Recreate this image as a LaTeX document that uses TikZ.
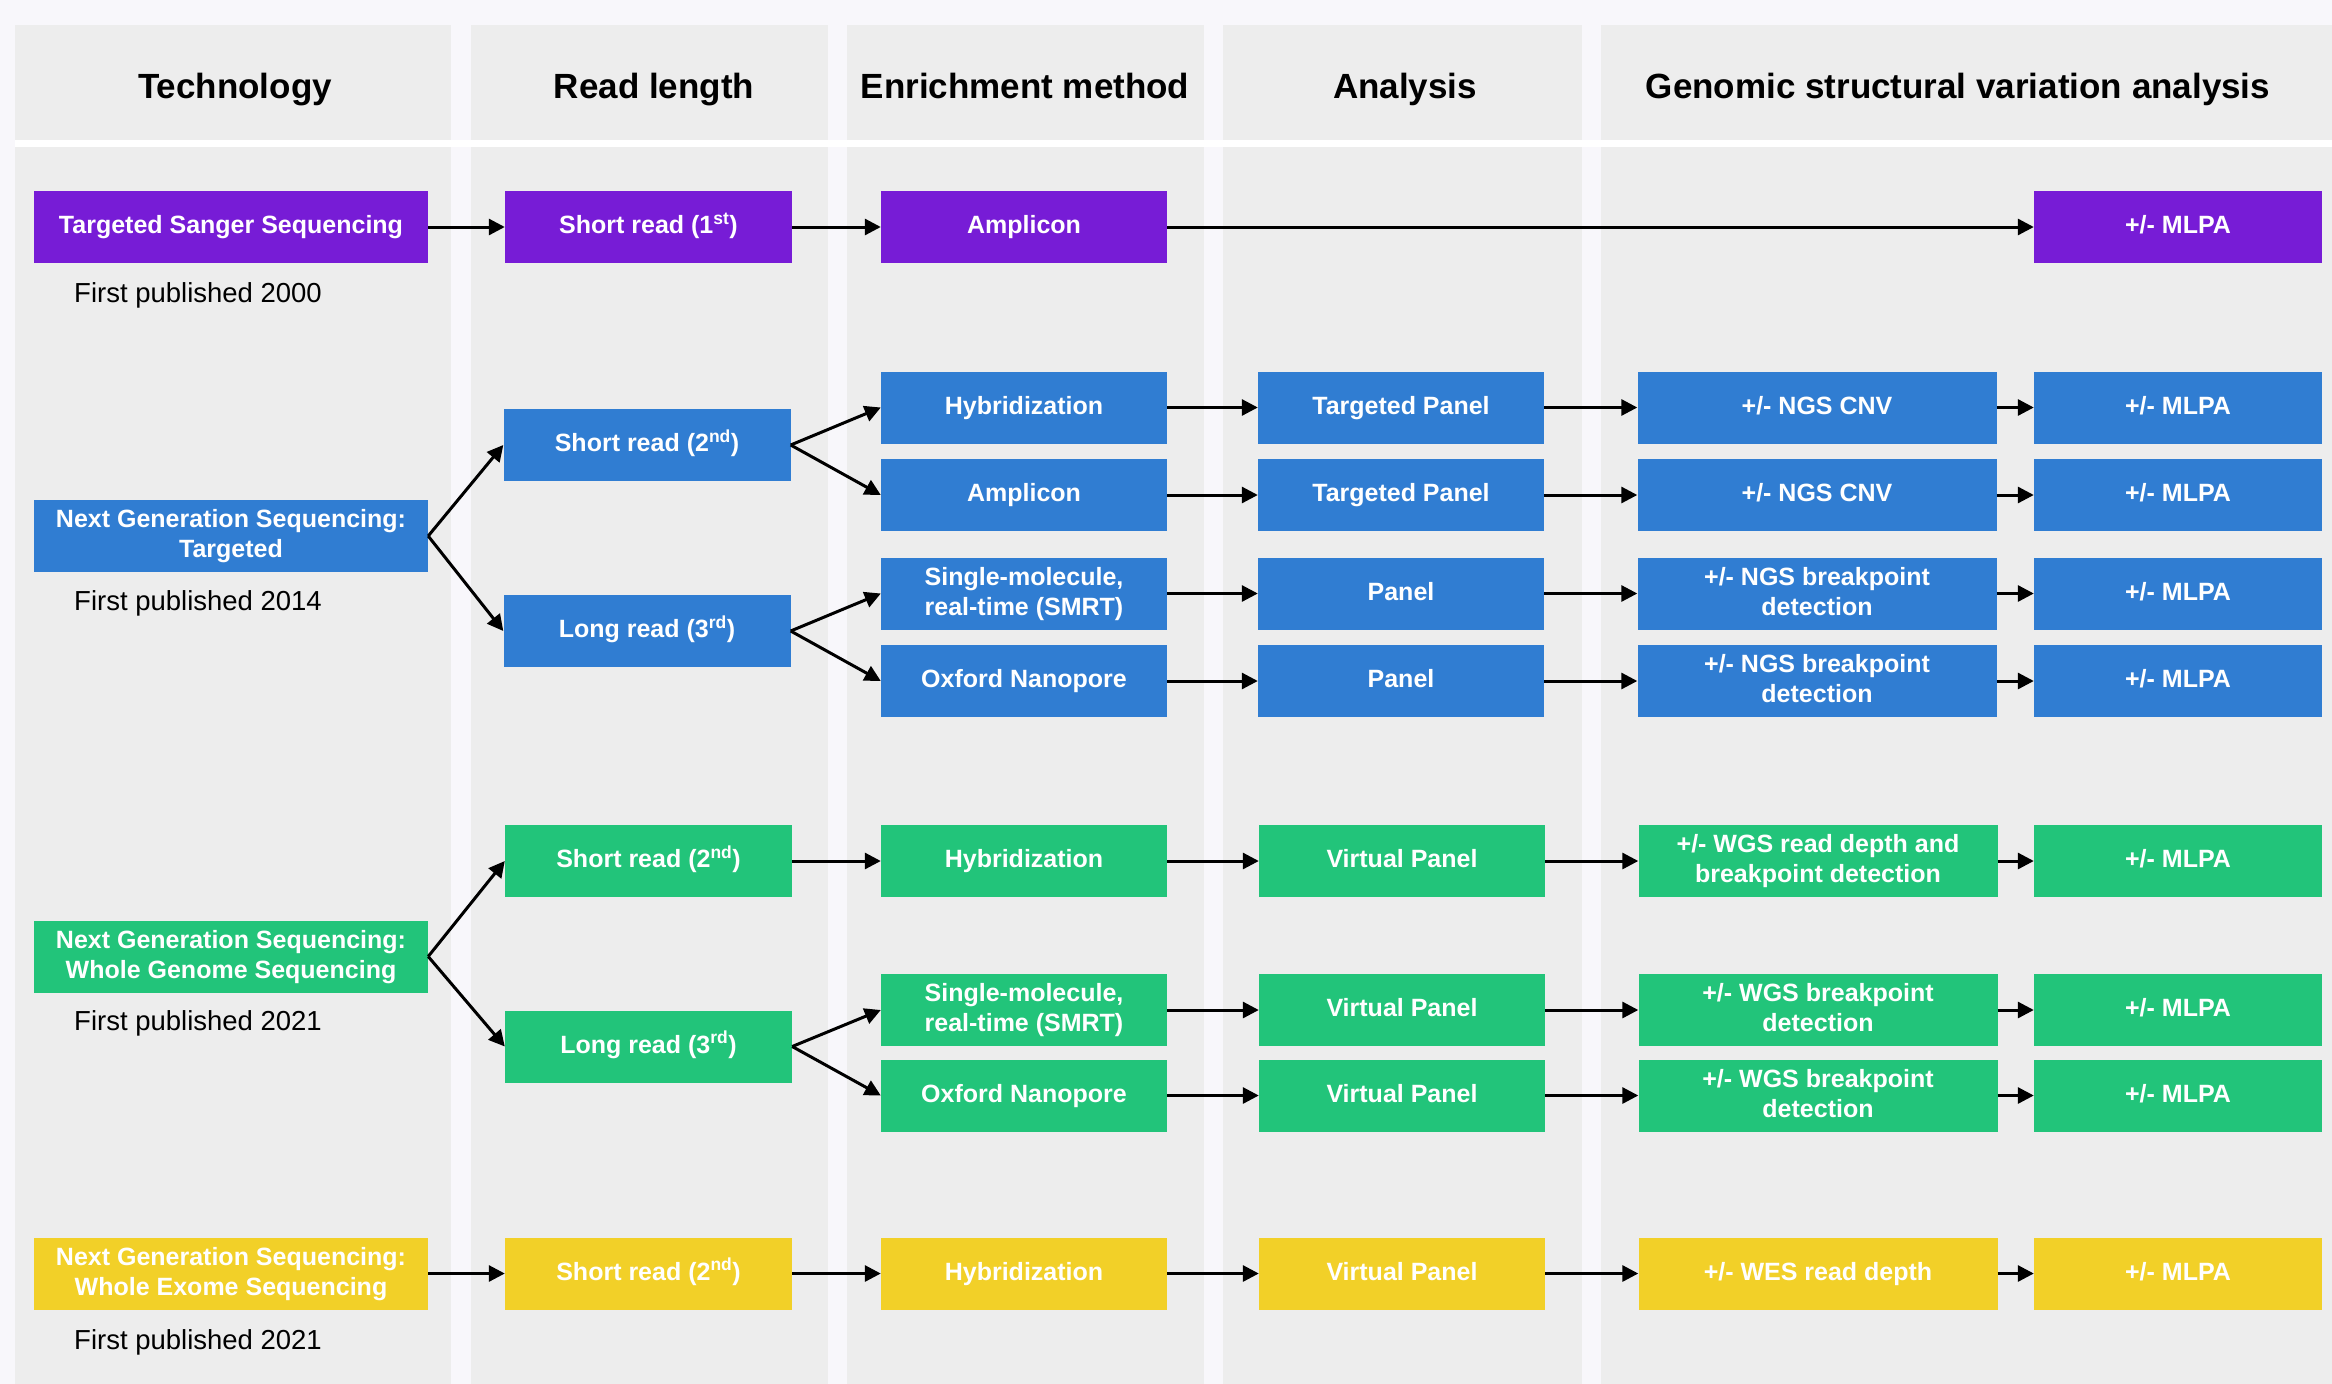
\documentclass[tikz,border=0pt]{standalone}
\usepackage{fontspec}
\setmainfont{Liberation Sans}
\usetikzlibrary{arrows.meta}
\definecolor{cpur}{RGB}{119,28,214}
\definecolor{cblu}{RGB}{48,125,210}
\definecolor{cgrn}{RGB}{34,196,122}
\definecolor{cyel}{RGB}{242,208,40}
\definecolor{cpanel}{RGB}{237,237,237}
\definecolor{cbg}{RGB}{248,247,251}
\tikzset{
  box/.style={rectangle, minimum height=72pt, inner sep=0pt, align=center, text=white,
    font=\bfseries\fontsize{25}{30}\selectfont},
  one/.style={text height=18pt, text depth=5pt},
  two/.style={text depth=5pt},
  pur/.style={box, fill=cpur},
  blu/.style={box, fill=cblu},
  grn/.style={box, fill=cgrn},
  yel/.style={box, fill=cyel},
  wa/.style={minimum width=394pt},
  wb/.style={minimum width=287pt},
  wc/.style={minimum width=286pt},
  wd/.style={minimum width=286pt},
  we/.style={minimum width=359pt},
  wf/.style={minimum width=288pt},
  arr/.style={-{Triangle[length=16pt,width=16pt]}, line width=3pt, black},
  hdr/.style={font=\bfseries\fontsize{35}{40}\selectfont, anchor=base, inner sep=0pt},
  pub/.style={font=\fontsize{27.5}{30}\selectfont, anchor=west, inner sep=0pt}
}
\begin{document}
\begin{tikzpicture}[x=1pt,y=-1pt]
\useasboundingbox (0,0) rectangle (2332,1384);
\fill[cbg] (0,0) rectangle (2332,1384);
% panels
\foreach \xa/\xb in {15/451, 471/828, 847/1204, 1223/1582, 1601/2332}{
  \fill[cpanel] (\xa,25) rectangle (\xb,140);
  \fill[cpanel] (\xa,147) rectangle (\xb,1384);
}
\fill[white] (15,140) rectangle (2332,147);
% headers
\node[hdr] (h1) at (235,98) {Technology};
\node[hdr] (h2) at (654,98) {Read length};
\node[hdr] (h3) at (1025,98) {Enrichment method};
\node[hdr] (h4) at (1405,98) {Analysis};
\node[hdr] (h5) at (1958,98) {Genomic structural variation analysis};

% purple row
\node[pur,one,wa] (tsg) at (231,227) {Targeted Sanger Sequencing};
\node[pur,one,wb] (sr1) at (648.5,227) {Short read (1\textsuperscript{st})};
\node[pur,one,wc] (amp1) at (1024,227) {Amplicon};
\node[pur,one,wf] (ml1) at (2178,227) {+/- MLPA};
\node[pub] (p1) at (74,295) {First published 2000};
\draw[arr] (tsg.east) -- (sr1.west);
\draw[arr] (sr1.east) -- (amp1.west);
\draw[arr] (amp1.east) -- (ml1.west);

% blue rows
\node[blu,two,wa] (ngt) at (231,536) {Next Generation Sequencing:\\Targeted};
\node[pub] (p2) at (74,603) {First published 2014};
\node[blu,one,wb] (sr2b) at (647,445) {Short read (2\textsuperscript{nd})};
\node[blu,one,wb] (lr3b) at (647,631) {Long read (3\textsuperscript{rd})};
\node[blu,one,wc] (hyb) at (1024,407.5) {Hybridization};
\node[blu,one,wc] (ampb) at (1024,495) {Amplicon};
\node[blu,two,wc] (smb) at (1024,593.5) {Single-molecule,\\real-time (SMRT)};
\node[blu,one,wc] (oxb) at (1024,681) {Oxford Nanopore};
\node[blu,one,wd] (tp1) at (1401,407.5) {Targeted Panel};
\node[blu,one,wd] (tp2) at (1401,495) {Targeted Panel};
\node[blu,one,wd] (pn1) at (1401,593.5) {Panel};
\node[blu,one,wd] (pn2) at (1401,681) {Panel};
\node[blu,one,we] (cn1) at (1817,407.5) {+/- NGS CNV};
\node[blu,one,we] (cn2) at (1817,495) {+/- NGS CNV};
\node[blu,two,we] (bp1) at (1817,593.5) {+/- NGS breakpoint\\detection};
\node[blu,two,we] (bp2) at (1817,681) {+/- NGS breakpoint\\detection};
\node[blu,one,wf] (mb1) at (2178,407.5) {+/- MLPA};
\node[blu,one,wf] (mb2) at (2178,495) {+/- MLPA};
\node[blu,one,wf] (mb3) at (2178,593.5) {+/- MLPA};
\node[blu,one,wf] (mb4) at (2178,681) {+/- MLPA};
\draw[arr] (ngt.east) -- (sr2b.west);
\draw[arr] (ngt.east) -- (lr3b.west);
\draw[arr] (sr2b.east) -- (hyb.west);
\draw[arr] (sr2b.east) -- (ampb.west);
\draw[arr] (lr3b.east) -- (smb.west);
\draw[arr] (lr3b.east) -- (oxb.west);
\draw[arr] (hyb.east) -- (tp1.west);
\draw[arr] (ampb.east) -- (tp2.west);
\draw[arr] (smb.east) -- (pn1.west);
\draw[arr] (oxb.east) -- (pn2.west);
\draw[arr] (tp1.east) -- (cn1.west);
\draw[arr] (tp2.east) -- (cn2.west);
\draw[arr] (pn1.east) -- (bp1.west);
\draw[arr] (pn2.east) -- (bp2.west);
\draw[arr] (cn1.east) -- (mb1.west);
\draw[arr] (cn2.east) -- (mb2.west);
\draw[arr] (bp1.east) -- (mb3.west);
\draw[arr] (bp2.east) -- (mb4.west);

% green rows
\node[grn,two,wa] (wgs) at (231,956.5) {Next Generation Sequencing:\\Whole Genome Sequencing};
\node[pub] (p3) at (74,1023) {First published 2021};
\node[grn,one,wb] (sr2g) at (648.5,861) {Short read (2\textsuperscript{nd})};
\node[grn,one,wb] (lr3g) at (648.5,1046.5) {Long read (3\textsuperscript{rd})};
\node[grn,one,wc] (hybg) at (1024,861) {Hybridization};
\node[grn,two,wc] (smg) at (1024,1010) {Single-molecule,\\real-time (SMRT)};
\node[grn,one,wc] (oxg) at (1024,1095.5) {Oxford Nanopore};
\node[grn,one,wd] (vg1) at (1402,861) {Virtual Panel};
\node[grn,one,wd] (vg2) at (1402,1010) {Virtual Panel};
\node[grn,one,wd] (vg3) at (1402,1095.5) {Virtual Panel};
\node[grn,two,we] (wg1) at (1818,861) {+/- WGS read depth and\\breakpoint detection};
\node[grn,two,we] (wg2) at (1818,1010) {+/- WGS breakpoint\\detection};
\node[grn,two,we] (wg3) at (1818,1095.5) {+/- WGS breakpoint\\detection};
\node[grn,one,wf] (mg1) at (2178,861) {+/- MLPA};
\node[grn,one,wf] (mg2) at (2178,1010) {+/- MLPA};
\node[grn,one,wf] (mg3) at (2178,1095.5) {+/- MLPA};
\draw[arr] (wgs.east) -- (sr2g.west);
\draw[arr] (wgs.east) -- (lr3g.west);
\draw[arr] (sr2g.east) -- (hybg.west);
\draw[arr] (lr3g.east) -- (smg.west);
\draw[arr] (lr3g.east) -- (oxg.west);
\draw[arr] (hybg.east) -- (vg1.west);
\draw[arr] (smg.east) -- (vg2.west);
\draw[arr] (oxg.east) -- (vg3.west);
\draw[arr] (vg1.east) -- (wg1.west);
\draw[arr] (vg2.east) -- (wg2.west);
\draw[arr] (vg3.east) -- (wg3.west);
\draw[arr] (wg1.east) -- (mg1.west);
\draw[arr] (wg2.east) -- (mg2.west);
\draw[arr] (wg3.east) -- (mg3.west);

% yellow row
\node[yel,two,wa] (wes) at (231,1273.5) {Next Generation Sequencing:\\Whole Exome Sequencing};
\node[pub] (p4) at (74,1342) {First published 2021};
\node[yel,one,wb] (sry) at (648.5,1273.5) {Short read (2\textsuperscript{nd})};
\node[yel,one,wc] (hyby) at (1024,1273.5) {Hybridization};
\node[yel,one,wd] (vy) at (1402,1273.5) {Virtual Panel};
\node[yel,one,we] (wy) at (1818,1273.5) {+/- WES read depth};
\node[yel,one,wf] (my) at (2178,1273.5) {+/- MLPA};
\draw[arr] (wes.east) -- (sry.west);
\draw[arr] (sry.east) -- (hyby.west);
\draw[arr] (hyby.east) -- (vy.west);
\draw[arr] (vy.east) -- (wy.west);
\draw[arr] (wy.east) -- (my.west);
\end{tikzpicture}
\end{document}
